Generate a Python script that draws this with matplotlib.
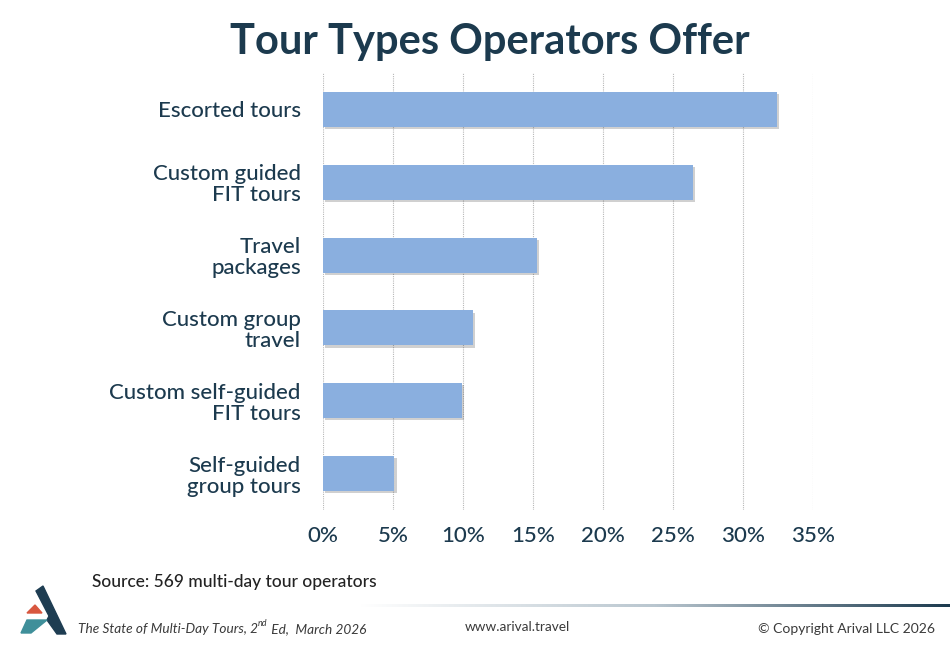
import numpy as np
import matplotlib
matplotlib.use('Agg')
import matplotlib.pyplot as plt
import matplotlib.patheffects as pe
from matplotlib.patches import Polygon
from matplotlib.colors import LinearSegmentedColormap

categories = ['Escorted tours', 'Custom guided\nFIT tours', 'Travel\npackages',
              'Custom group\ntravel', 'Custom self-guided\nFIT tours', 'Self-guided\ngroup tours']
values = [32.4, 26.4, 15.3, 10.7, 9.9, 5.1]
ticks = [0, 5, 10, 15, 20, 25, 30, 35]
tick_labels = ['%d%%' % t for t in ticks]

navy = '#1c3a4e'
bar_col = '#8aafdf'
foot_col = '#3a3a3a'

plt.rcParams['font.family'] = ['Lato', 'DejaVu Sans']

fig = plt.figure(figsize=(9.5, 6.5), dpi=100)
ax = fig.add_axes([0.34, 0.215, 0.516, 0.673])

y = np.arange(len(categories))
bars = ax.barh(y, values, height=0.48, color=bar_col, zorder=3)
for b in bars:
    b.set_path_effects([pe.SimplePatchShadow(offset=(1.5, -1.5), alpha=0.25, shadow_rgbFace='#444444'), pe.Normal()])

ax.set_xlim(0, 35)
ax.set_ylim(5.5, -0.5)
ax.set_xticks(ticks)
ax.set_xticklabels(tick_labels, fontsize=16, color=navy, fontweight='medium')
ax.set_yticks(y)
ax.set_yticklabels(categories, fontsize=16, color=navy, linespacing=1.05, fontweight='medium')
ax.tick_params(length=0, pad=11, axis='x')
ax.tick_params(length=0, pad=16, axis='y')
for s in ax.spines.values():
    s.set_visible(False)
ax.grid(axis='x', color='#b8b8b8', linestyle=(0, (1, 1)), linewidth=0.8, zorder=0)
ax.set_axisbelow(True)

fig.text(490 / 950, 0.935, 'Tour Types Operators Offer', ha='center', va='center',
         fontsize=30, fontweight='bold', color=navy)

fig.text(92 / 950, 1 - 582 / 650, 'Source: 569 multi-day tour operators', ha='left', va='center',
         fontsize=12.5, color='#222222', fontweight='medium')

# gradient rule
gax = fig.add_axes([360 / 950, 1 - 607 / 650, 590 / 950, 3 / 650])
cmap = LinearSegmentedColormap.from_list('g', ['#ffffff', '#b9c6cf', navy])
gax.imshow(np.linspace(0, 1, 256)[None, :], aspect='auto', cmap=cmap)
gax.axis('off')

# footer with superscript pieces
fy = 1 - 629 / 650
t1 = fig.text(78 / 950, fy, 'The State of Multi-Day Tours, 2', ha='left', va='center',
              fontsize=9.8, style='italic', color=foot_col)
fig.canvas.draw()
r = fig.canvas.get_renderer()
x1 = fig.transFigure.inverted().transform(t1.get_window_extent(r))[1][0]
t2 = fig.text(x1, fy + 5 / 650, 'nd', ha='left', va='center', fontsize=6.5, style='italic', color=foot_col)
x2 = fig.transFigure.inverted().transform(t2.get_window_extent(r))[1][0]
fig.text(x2, fy, ' Ed,  March 2026', ha='left', va='center', fontsize=9.8, style='italic', color=foot_col)

fig.text(517 / 950, 1 - 627 / 650, 'www.arival.travel', ha='center', va='center',
         fontsize=9.8, color=foot_col)
fig.text(935 / 950, 1 - 629 / 650, '\u00a9 Copyright Arival LLC 2026', ha='right', va='center',
         fontsize=10, color=foot_col)

# logo
def px(pts):
    return [(x / 950, 1 - yy / 650) for x, yy in pts]

fig.patches.append(Polygon(px([(36, 591), (43, 586), (66, 634), (57, 634), (47, 620), (49, 616)]),
                           closed=True, color='#1e3d52', transform=fig.transFigure))
fig.patches.append(Polygon(px([(27, 613), (35, 605), (42, 613)]),
                           closed=True, color='#d8573f', transform=fig.transFigure))
fig.patches.append(Polygon(px([(27, 620), (47, 620), (31, 633), (21, 633)]),
                           closed=True, color='#3f8f9a', transform=fig.transFigure))

fig.savefig('out.png', dpi=100)
